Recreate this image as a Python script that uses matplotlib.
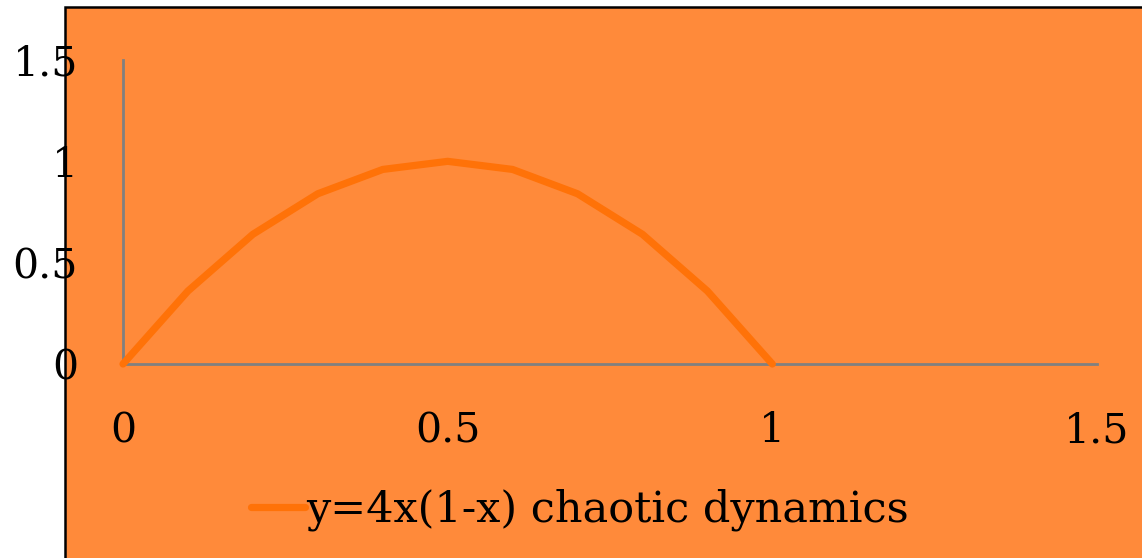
import matplotlib
matplotlib.use("Agg")
import matplotlib.pyplot as plt
from matplotlib.patches import Rectangle
from matplotlib.lines import Line2D

x_vals = [0, 0.1, 0.2, 0.3, 0.4, 0.5, 0.6, 0.7, 0.8, 0.9, 1.0]
y_vals = [0, 0.36, 0.64, 0.84, 0.96, 1.0, 0.96, 0.84, 0.64, 0.36, 0]
x_ticks = [0, 0.5, 1, 1.5]
x_tick_labels = ["0", "0.5", "1", "1.5"]
y_ticks = [0, 0.5, 1, 1.5]
y_tick_labels = ["0", "0.5", "1", "1.5"]
series_label = "y=4x(1-x) chaotic dynamics"

W, H = 1142, 558
BG = "#FF8A3A"
LINE = "#FF7208"
FS = 29.5
plt.rcParams['font.family'] = ['DejaVu Serif']

fig = plt.figure(figsize=(W/100, H/100), dpi=100)
fig.patch.set_facecolor("white")
# orange chart area with black top/left border
fig.patches.append(Rectangle((65/W, -0.01), 1.02, 1 - 7/H + 0.01, transform=fig.transFigure,
                             facecolor=BG, edgecolor="black", linewidth=1.8, zorder=-5))

ax = fig.add_axes([123/W, (H-364)/H, (1097-123)/W, 304/H])
ax.set_zorder(2)
ax.set_facecolor("none")
ax.plot(x_vals, y_vals, color=LINE, linewidth=5.2, solid_capstyle="round", solid_joinstyle="round",
        clip_on=False, zorder=3, label=series_label)
ax.set_xlim(0, 1.5)
ax.set_ylim(0, 1.5)
for s in ["top", "right"]:
    ax.spines[s].set_visible(False)
for s in ["left", "bottom"]:
    ax.spines[s].set_color("#808080")
    ax.spines[s].set_linewidth(2)
ax.set_xticks(x_ticks)
ax.set_xticklabels(x_tick_labels)
ax.set_yticks(y_ticks)
ax.set_yticklabels(y_tick_labels)
ax.tick_params(axis="both", length=0, labelsize=FS, colors="black")
ax.tick_params(axis="x", pad=34)
ax.tick_params(axis="y", pad=32.4)

handle = Line2D([], [], color=LINE, linewidth=5.2, solid_capstyle="round")
leg = fig.legend([handle], [series_label], loc="center", bbox_to_anchor=(580/W, 1 - 510/H),
                 frameon=False, fontsize=31, handlelength=1.25, handletextpad=0.02,
                 borderaxespad=0, borderpad=0)
leg.set_zorder(3)

fig.savefig("out.png", dpi=100, facecolor=fig.get_facecolor())
